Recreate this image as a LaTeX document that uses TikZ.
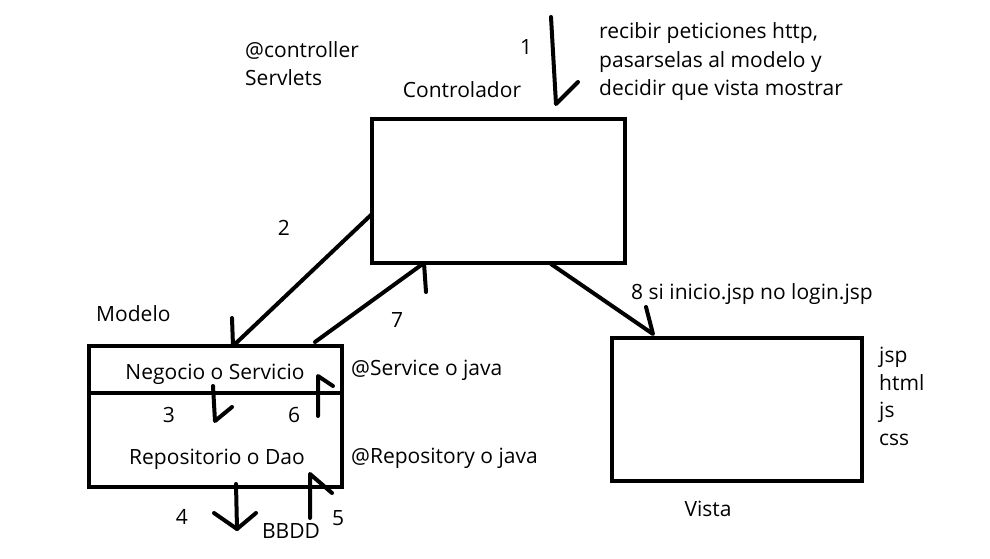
\documentclass[tikz,border=0pt]{standalone}
\usepackage{fontspec}
\setmainfont{Open Sans}
\begin{document}
\begin{tikzpicture}[x=1pt,y=-1pt,
  box/.style={draw,line width=4pt,inner sep=0pt},
  stroke/.style={line width=4pt,line cap=round,line join=round},
  lbl/.style={inner sep=0pt,font=\fontsize{21}{25}\selectfont},
  lblw/.style={lbl,anchor=base west},
  lblc/.style={lbl,anchor=base}]
\useasboundingbox (0,0) rectangle (990,558);
% boxes
\node[box,minimum width=253pt,minimum height=144pt] (ctrl) at (498.5,191) {};
\node[box,minimum width=253pt,minimum height=141pt] (model) at (215,416.5) {};
\node[box,minimum width=250pt,minimum height=143pt] (vista) at (737,409.5) {};
\coordinate (divL) at (89,393);
\coordinate (divR) at (341,393);
\draw[stroke,line cap=butt] (divL) -- (divR);
% arrow 1
\coordinate (a1s) at (551,17);
\coordinate (a1e) at (556,104);
\coordinate (a1b) at (578,82);
\draw[stroke] (a1s) -- (a1e) -- (a1b);
% arrow 2
\coordinate (a2s) at (372,214);
\coordinate (a2e) at (233,346);
\coordinate (a2b) at (232,318);
\draw[stroke] (a2s) -- (a2e) -- (a2b);
% arrow 7
\coordinate (a7s) at (315,342);
\coordinate (a7e) at (424,263);
\coordinate (a7b) at (426,292);
\draw[stroke] (a7s) -- (a7e) -- (a7b);
% arrow 8
\coordinate (a8s) at (551,264);
\coordinate (a8e) at (653,334);
\coordinate (a8b) at (646,307);
\draw[stroke] (a8s) -- (a8e) -- (a8b);
% arrow 3
\coordinate (a3s) at (213,386);
\coordinate (a3e) at (215,421);
\coordinate (a3b) at (232,407);
\draw[stroke] (a3s) -- (a3e) -- (a3b);
% arrow 6
\coordinate (a6s) at (318,416);
\coordinate (a6e) at (318,376);
\coordinate (a6b) at (333,386);
\draw[stroke] (a6s) -- (a6e) -- (a6b);
% arrow 4
\coordinate (a4s) at (236,484);
\coordinate (a4e) at (237,529);
\coordinate (a4l) at (214,513);
\coordinate (a4r) at (256,513);
\draw[stroke] (a4s) -- (a4e);
\draw[stroke] (a4l) -- (a4e) -- (a4r);
% arrow 5
\coordinate (a5s) at (310,518);
\coordinate (a5e) at (310,474);
\coordinate (a5b) at (332,493);
\draw[stroke] (a5s) -- (a5e) -- (a5b);
% texts
\node[lblw] (t1) at (245,57) {@controller};
\node[lblw] (t2) at (245,85) {Servlets};
\node[lblc] (tctrl) at (462,97) {Controlador};
\node[lblc] (n1) at (526,54) {1};
\node[lblw] (d1) at (599,38) {recibir peticiones http,};
\node[lblw] (d2) at (599,67) {pasarselas al modelo y};
\node[lblw] (d3) at (599,95) {decidir que vista mostrar};
\node[lblc] (n2) at (284,235) {2};
\node[lblw] (tmod) at (96,321) {Modelo};
\node[lblc] (n7) at (397,327) {7};
\node[lblw] (n8) at (631,299) {8 si inicio.jsp no login.jsp};
\node[lblc] (tneg) at (215,379) {Negocio o Servicio};
\node[lblw] (tsrv) at (351,375) {@Service o java};
\node[lblc] (n3) at (169,422) {3};
\node[lblc] (n6) at (294,422) {6};
\node[lblc] (trep) at (217,464) {Repositorio o Dao};
\node[lblw] (trepo) at (351,463) {@Repository o java};
\node[lblc] (n4) at (182,524) {4};
\node[lblc] (tbd) at (291,538) {BBDD};
\node[lblc] (n5) at (338,525) {5};
\node[lblw] (j1) at (879,362) {jsp};
\node[lblw] (j2) at (879,390) {html};
\node[lblw] (j3) at (879,417) {js};
\node[lblw] (j4) at (879,445) {css};
\node[lblc] (tvis) at (708,516) {Vista};
\end{tikzpicture}
\end{document}
